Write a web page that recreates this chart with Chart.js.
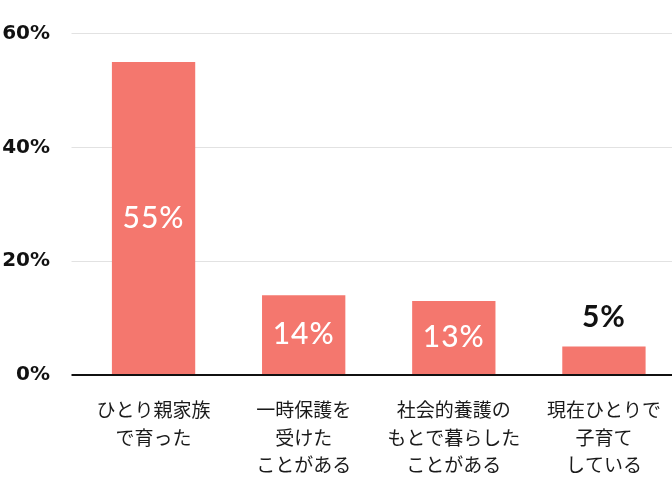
<!DOCTYPE html>
<html lang="ja">
<head>
<meta charset="utf-8">
<script src="https://cdn.jsdelivr.net/npm/chart.js@4"></script>
<style>
  html, body { margin: 0; padding: 0; background: #fff; overflow: hidden; }
  #wrap { width: 679px; height: 497px; }
</style>
</head>
<body>
<div id="wrap"><canvas id="barChart"></canvas></div>
<script>
// カテゴリ（改行ごとに配列）
const categories = [
    ['ひとり親家族', 'で育った'],
    ['一時保護を', '受けた', 'ことがある'],
    ['社会的養護の', 'もとで暮らした', 'ことがある'],
    ['現在ひとりで', '子育て', 'している']
];
const values = [55, 14, 13, 5];
const yTicks = [0, 20, 40, 60];

const barColor = '#f4776e';

// バーの上・中に値を描く
const valueLabels = {
    id: 'valueLabels',
    afterDatasetsDraw(chart) {
        const ctx = chart.ctx;
        const meta = chart.getDatasetMeta(0);
        ctx.save();
        ctx.textAlign = 'center';
        ctx.textBaseline = 'middle';
        if ('letterSpacing' in ctx) ctx.letterSpacing = '1px';
        meta.data.forEach((bar, i) => {
            const v = values[i];
            const text = v + '%';
            if (v >= 10) {
                ctx.font = '500 30px Lato, sans-serif';
                ctx.fillStyle = '#ffffff';
                ctx.fillText(text, bar.x, (bar.y + bar.base) / 2);
            } else {
                ctx.font = '700 30px Lato, sans-serif';
                ctx.fillStyle = '#111111';
                ctx.fillText(text, bar.x, bar.y - 29);
            }
        });
        ctx.restore();
    }
};

function renderChart() {
    const ctx = document.getElementById('barChart').getContext('2d');
    new Chart(ctx, {
        type: 'bar',
        data: {
            labels: categories,
            datasets: [{
                data: values,
                backgroundColor: barColor,
                borderWidth: 0,
                categoryPercentage: 1,
                barPercentage: 0.555
            }]
        },
        options: {
            responsive: true,
            maintainAspectRatio: false,
            animation: false,
            layout: { padding: { top: 32, right: 0, bottom: 0, left: 0 } },
            plugins: { legend: { display: false }, tooltip: { enabled: false } },
            scales: {
                x: {
                    grid: { display: false, drawTicks: false },
                    border: { display: false },
                    ticks: {
                        color: '#1a1a1a',
                        padding: 21,
                        maxRotation: 0,
                        autoSkip: false,
                        font: { family: "'Noto Sans CJK JP', sans-serif", size: 19, lineHeight: 1.45 }
                    },
                    afterFit: s => {
                        s.height = 122;
                        // ラベル幅による左右の余白は不要
                        s.paddingLeft = 0;
                        s.paddingRight = 0;
                    }
                },
                y: {
                    min: 0,
                    max: 60,
                    afterBuildTicks: s => { s.ticks = yTicks.map(v => ({ value: v })); },
                    grid: {
                        drawTicks: true,
                        tickLength: 7,
                        color: c => c.tick && c.tick.value === 0 ? '#111' : '#e2e2e2',
                        lineWidth: c => c.tick && c.tick.value === 0 ? 2 : 1
                    },
                    border: { display: false },
                    ticks: {
                        color: '#111',
                        padding: 21.5,
                        font: { family: "'DejaVu Sans', sans-serif", size: 20, weight: 'bold' },
                        callback: v => v + '%'
                    },
                    afterFit: s => { s.width = 78.5; }
                }
            }
        },
        plugins: [valueLabels]
    });
}

renderChart();
</script>
</body>
</html>
